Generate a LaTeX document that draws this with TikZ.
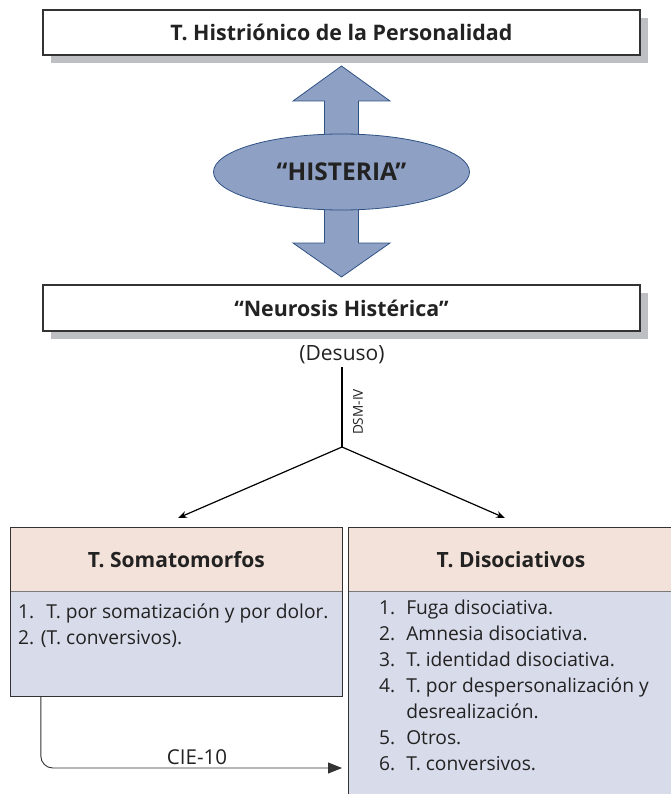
\documentclass[tikz,border=0pt]{standalone}
\usepackage{fontspec}
\setmainfont{Open Sans}
\usetikzlibrary{shapes.geometric,arrows.meta,shadows}
\definecolor{shadowgray}{HTML}{BEBFC3}
\definecolor{arrowfill}{HTML}{8FA0C5}
\definecolor{arrowline}{HTML}{2E5283}
\definecolor{headfill}{HTML}{F3E2D9}
\definecolor{bodyfill}{HTML}{D8DBEA}
\definecolor{framegray}{HTML}{333333}
\definecolor{sepgray}{HTML}{7A7A7A}
\definecolor{inkgray}{HTML}{222222}

\begin{document}
\begin{tikzpicture}[x=1pt,y=-1pt,
  titlebox/.style={draw=framegray, line width=1.2pt, fill=white,
    minimum width=597pt, minimum height=45pt, inner sep=0pt,
    text=inkgray, font=\fontsize{21.4}{24}\selectfont\bfseries,
    drop shadow={shadow xshift=8pt, shadow yshift=-8pt, fill=shadowgray, opacity=1}},
  headpanel/.style={fill=headfill, inner sep=0pt, minimum height=63pt,
    text=inkgray, font=\fontsize{21}{24}\selectfont\bfseries},
  bodypanel/.style={fill=bodyfill, inner sep=0pt},
  listtext/.style={font=\fontsize{19.2}{26}\selectfont, inner sep=0pt, text=inkgray},
  link/.style={line width=1.2pt, black},
  forkarrow/.style={link, -{Stealth[length=9pt,width=7pt]}},
  frame/.style={draw=framegray, line width=1pt}
]
\useasboundingbox (0,0) rectangle (671,794);

% title boxes with drop shadows
\node[titlebox] (hist) at (341.5,32.5) {T. Histriónico de la Personalidad};
\node[titlebox, minimum height=46pt] (neur) at (341.5,308) {“Neurosis Histérica”};

% double-headed block arrow behind the ellipse
\draw[arrowline, fill=arrowfill, line width=0.8pt]
  (341.5,66) -- (390,101) -- (358.5,101) -- (358.5,243) -- (390,243)
  -- (341.5,277) -- (293,243) -- (324.5,243) -- (324.5,101) -- (293,101) -- cycle;
\node[ellipse, draw=arrowline, fill=arrowfill, line width=0.8pt,
  minimum width=256pt, minimum height=76pt, inner sep=0pt,
  text=inkgray, font=\fontsize{24.5}{28}\selectfont\bfseries] (hyst) at (341.5,172) {“HISTERIA”};

% DSM-IV fork
\node[font=\fontsize{21}{24}\selectfont, inner sep=3pt, text=inkgray] (desuso) at (342,355) {(Desuso)};
\coordinate (fork) at (342,447);
\coordinate (toL) at (178,518);
\coordinate (toR) at (505,518);
\draw[link] (desuso.south) -- (fork);
\node[rotate=90, font=\fontsize{13.6}{16}\selectfont, text=inkgray] (dsm) at (358,412) {DSM-IV};
\draw[forkarrow] (fork) -- (toL);
\draw[forkarrow] (fork) -- (toR);

% somatoform panel
\node[headpanel, minimum width=331.3pt] (somh) at (176.35,559.5) {T. Somatomorfos};
\node[bodypanel, minimum width=331.3pt, minimum height=105pt] (somb) at (176.35,643.5) {};
\draw[sepgray, line width=0.8pt] (somh.south west) -- (somh.south east);
\draw[frame] (somh.north west) rectangle (somb.south east);
\node[listtext, anchor=base west] (soml) at (18,618)
  {\begin{tabular}[t]{@{}l@{}}
   1.\hspace{12pt}T. por somatización y por dolor.\\
   2. (T. conversivos).
   \end{tabular}};

% dissociative panel
\node[headpanel, minimum width=324pt] (dish) at (511,559.5) {T. Disociativos};
\node[bodypanel, minimum width=324pt, minimum height=209pt] (disb) at (511,695.5) {};
\draw[sepgray, line width=0.8pt] (dish.south west) -- (dish.south east);
\draw[frame] (dish.north west) rectangle (disb.south east);
\node[listtext, anchor=base west] (disl) at (379,614)
  {\begin{tabular}[t]{@{}l@{\hspace{11pt}}l@{}}
   1. & Fuga disociativa.\\
   2. & Amnesia disociativa.\\
   3. & T. identidad disociativa.\\
   4. & T. por despersonalización y\\
      & desrealización.\\
   5. & Otros.\\
   6. & T. conversivos.
   \end{tabular}};

% CIE-10 link
\coordinate (cieend) at (342,768);
\draw[framegray, line width=0.9pt, rounded corners=12pt, -{Triangle[length=14pt,width=11pt]}]
  ([xshift=30.3pt]somb.south west) |- (cieend);
\node[font=\fontsize{20.5}{23}\selectfont, text=inkgray] (cie) at (197,757) {CIE-10};
\end{tikzpicture}
\end{document}
